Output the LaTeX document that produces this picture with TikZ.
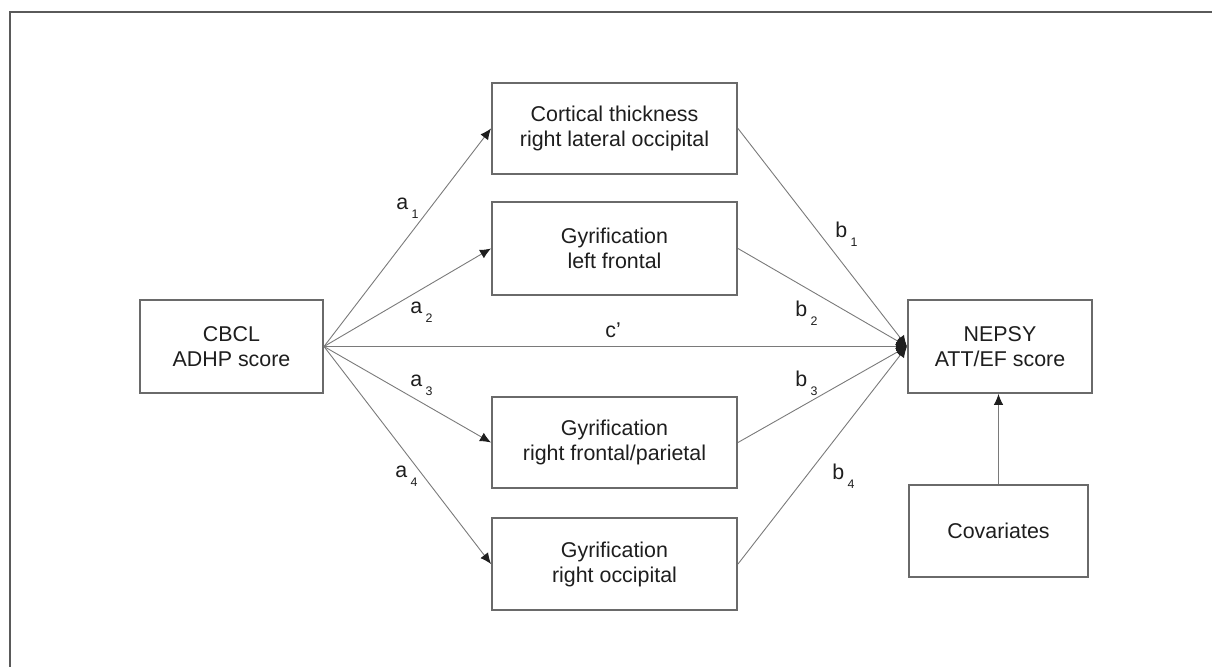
\documentclass[tikz,border=0pt]{standalone}
\usepackage{fontspec}
\setmainfont{Liberation Sans}
\usetikzlibrary{arrows.meta}
\definecolor{boxgray}{HTML}{6A6A6A}
\definecolor{linegray}{HTML}{7A7A7A}
\definecolor{txt}{HTML}{1E1E1E}
\newcommand{\lbl}[2]{#1\hspace{1.6pt}\raisebox{-4.5pt}{\fontsize{6.2}{7}\selectfont #2}}
\tikzset{
  box/.style={draw=boxgray, line width=1pt, fill=white, align=center, text=txt,
    font=\fontsize{10.7}{12.5}\selectfont, inner sep=0pt},
  conn/.style={draw=linegray, line width=0.45pt},
  arr/.style={conn, -{Latex[length=5.5pt,width=4.8pt,color=txt]}},
  lab/.style={anchor=base west, inner sep=0pt, text=txt, font=\fontsize{10.7}{12.5}\selectfont},
  frame/.style={draw=boxgray!85!black, line width=1.1pt}
}
\begin{document}
\begin{tikzpicture}[x=0.5pt,y=-0.5pt]
\useasboundingbox (0,0) rectangle (1212,667);
% outer frame (top and left only)
\coordinate (ftl) at (10,12);
\coordinate (ftr) at (1212,12);
\coordinate (fbl) at (10,667);
\draw[frame] (fbl) -- (ftl) -- (ftr);
% nodes
\node[box, minimum width=91.5pt, minimum height=46.5pt] (cbcl) at (231.5,346.5) {CBCL\\ADHP score};
\node[box, minimum width=122.5pt, minimum height=45.5pt] (ct) at (614.5,128.5) {Cortical thickness\\right lateral occipital};
\node[box, minimum width=122.5pt, minimum height=46.5pt] (lf) at (614.5,248.5) {Gyrification\\left frontal};
\node[box, minimum width=122.5pt, minimum height=45.5pt] (rfp) at (614.5,442.5) {Gyrification\\right frontal/parietal};
\node[box, minimum width=122.5pt, minimum height=46pt] (ro) at (614.5,564) {Gyrification\\right occipital};
\node[box, minimum width=92pt, minimum height=46.5pt] (nepsy) at (1000,346.5) {NEPSY\\ATT/EF score};
\node[box, minimum width=89.5pt, minimum height=46pt] (cov) at (998.5,531) {Covariates};
% connectors
\draw[arr] (cbcl.east) -- (ct.west);
\draw[arr] (cbcl.east) -- (lf.west);
\draw[arr] (cbcl.east) -- (rfp.west);
\draw[arr] (cbcl.east) -- (ro.west);
\draw[arr] (cbcl.east) -- (nepsy.west);
\draw[arr] (ct.east) -- (nepsy.west);
\draw[arr] (lf.east) -- (nepsy.west);
\draw[arr] (rfp.east) -- (nepsy.west);
\draw[arr] (ro.east) -- (nepsy.west);
\draw[arr] (cov.north) -- (cov.north |- nepsy.south);
% labels
\node[lab] (la1) at (396,210) {\lbl{a}{1}};
\node[lab] (la2) at (410,314) {\lbl{a}{2}};
\node[lab] (la3) at (410,387) {\lbl{a}{3}};
\node[lab] (la4) at (395,478) {\lbl{a}{4}};
\node[lab] (lb1) at (835,238) {\lbl{b}{1}};
\node[lab] (lb2) at (795,317) {\lbl{b}{2}};
\node[lab] (lb3) at (795,387) {\lbl{b}{3}};
\node[lab] (lb4) at (832,480) {\lbl{b}{4}};
\node[lab] (lc) at (605,338) {c’};
\end{tikzpicture}
\end{document}
